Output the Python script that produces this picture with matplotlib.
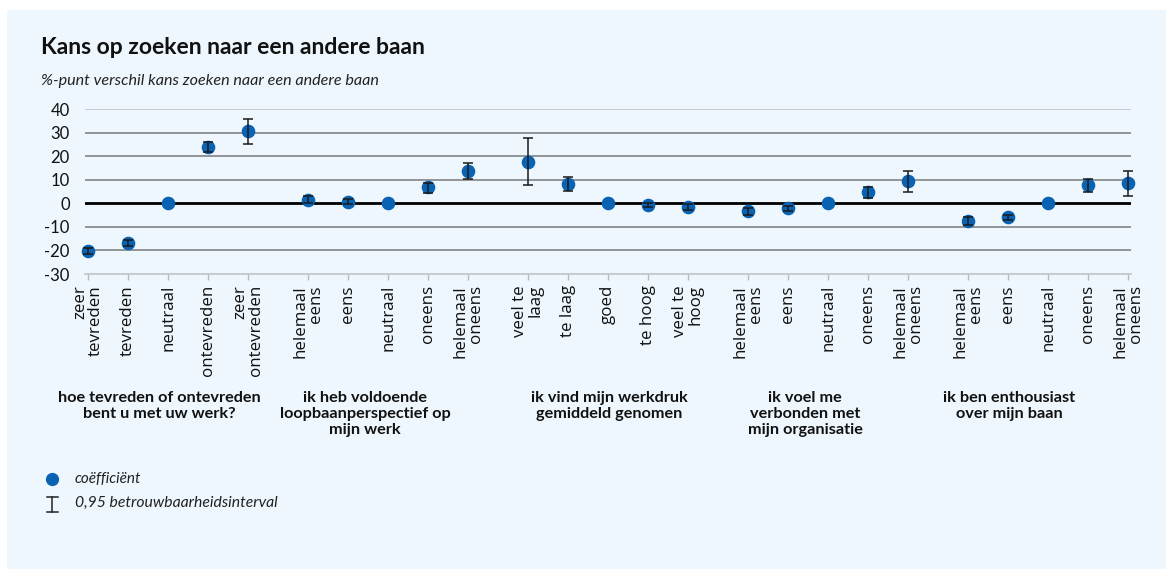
import numpy as np
import matplotlib
matplotlib.use('Agg')
import matplotlib.pyplot as plt
from matplotlib.lines import Line2D
from matplotlib.patches import Rectangle

plt.rcParams['font.family'] = ['Lato', 'DejaVu Sans']

# data
groups = ['hoe tevreden of ontevreden\nbent u met uw werk?',
          'ik heb voldoende\nloopbaanperspectief op\nmijn werk',
          'ik vind mijn werkdruk\ngemiddeld genomen',
          'ik voel me\nverbonden met\nmijn organisatie',
          'ik ben enthousiast\nover mijn baan']
labels = [['zeer\ntevreden', 'tevreden', 'neutraal', 'ontevreden', 'zeer\nontevreden'],
          ['helemaal\neens', 'eens', 'neutraal', 'oneens', 'helemaal\noneens'],
          ['veel te\nlaag', 'te laag', 'goed', 'te hoog', 'veel te\nhoog'],
          ['helemaal\neens', 'eens', 'neutraal', 'oneens', 'helemaal\noneens'],
          ['helemaal\neens', 'eens', 'neutraal', 'oneens', 'helemaal\noneens']]
coef = [[-20.2, -16.9, 0, 23.7, 30.5],
        [1.6, 0.6, 0, 6.7, 13.7],
        [17.6, 8.1, 0, -0.6, -1.4],
        [-3.2, -2.1, 0, 4.7, 9.4],
        [-7.4, -6.0, 0, 7.7, 8.4]]
ci_low = [[-21.6, -18.1, 0, 21.6, 25.2],
          [0.1, -0.5, 0, 4.3, 10.3],
          [7.8, 5.3, 0, -1.4, -2.9],
          [-4.9, -3.2, 0, 2.2, 5.0],
          [-9.0, -7.1, 0, 4.9, 3.1]]
ci_high = [[-18.8, -15.7, 0, 26.0, 35.7],
           [3.2, 1.7, 0, 8.6, 17.0],
           [27.5, 11.1, 0, 0.2, -0.1],
           [-1.8, -1.0, 0, 7.0, 13.8],
           [-5.9, -4.9, 0, 10.5, 13.8]]

blue = '#0a62b3'
bg = '#eef7fd'

fig = plt.figure(figsize=(11.66, 5.69), dpi=100)
fig.patch.set_facecolor('white')
fig.add_artist(Rectangle((7 / 1166, 0), 1, 1 - 10 / 569, transform=fig.transFigure,
                         facecolor=bg, edgecolor='none', zorder=-10))

ax = fig.add_axes([85 / 1166, 1 - 274 / 569, (1131 - 85) / 1166, (274 - 109) / 569])
ax.set_facecolor('none')

x, y, lo, hi, xl = [], [], [], [], []
for g in range(len(groups)):
    for k in range(len(coef[g])):
        x.append(g * 5.5 + k)
        y.append(coef[g][k])
        lo.append(ci_low[g][k])
        hi.append(ci_high[g][k])
        xl.append(labels[g][k])
x = np.array(x)
y = np.array(y)
lo = np.array(lo)
hi = np.array(hi)

for v in [10, 20, 30, -10, -20]:
    ax.axhline(v, color='#8a8d90', lw=1.3, zorder=1)
ax.axhline(40, color='#c4c8cc', lw=1.3, zorder=1)
ax.axhline(0, color='black', lw=2, zorder=2)

ax.plot(x, y, 'o', color=blue, ms=8.8, zorder=3, clip_on=False)
has_ci = (hi - lo) > 0
ax.errorbar(x[has_ci], y[has_ci], yerr=[y[has_ci] - lo[has_ci], hi[has_ci] - y[has_ci]],
            fmt='none', ecolor='#1a1a1a', elinewidth=1.1, capsize=3.6, capthick=1.1,
            zorder=4, clip_on=False)

ax.set_xlim(-0.075, 26.075)
ax.set_ylim(-30, 40)
ax.set_yticks(range(-30, 41, 10))
ax.set_yticklabels([str(v) for v in range(-30, 41, 10)], fontsize=12, color='#111')
ax.tick_params(axis='y', length=0, pad=11)
ax.set_xticks(x)
ax.set_xticklabels(xl, rotation=90, fontsize=12.2, va='top', ha='center', ma='right',
                   color='#111', family=['Open Sans', 'DejaVu Sans'], linespacing=0.92)
ax.tick_params(axis='x', length=4, color='#b8bcc0', width=1, pad=4)
for s in ['top', 'right', 'left']:
    ax.spines[s].set_visible(False)
ax.spines['bottom'].set_color('#c4c8cc')
ax.spines['bottom'].set_linewidth(1.3)

# group labels
group_label_x = [1.78, 6.93, 13.03, 17.93, 23.03]
for gx, name in zip(group_label_x, groups):
    ax.text(gx, -79.5, name, ha='center', va='top', fontsize=11.7, fontweight='bold',
            linespacing=1.2, color='#111')

# titles
fig.text(41 / 1166, 1 - 47 / 569, 'Kans op zoeken naar een andere baan', fontsize=16.5,
         fontweight='bold', va='center', ha='left', color='#111')
fig.text(41 / 1166, 1 - 81 / 569, '%-punt verschil kans zoeken naar een andere baan',
         fontsize=11.6, style='italic', va='center', ha='left', color='#222')

# legend
fig.add_artist(Line2D([52 / 1166], [1 - 479 / 569], marker='o', color=blue, ms=8.5,
                      transform=fig.transFigure))
fig.text(75 / 1166, 1 - 479 / 569, 'coëfficiënt', fontsize=11, style='italic',
         va='center', ha='left', color='#222')
for xs, ys in [([52, 52], [497, 512]), ([47, 58], [497, 497]), ([47, 58], [512, 512])]:
    fig.add_artist(Line2D([v / 1166 for v in xs], [1 - v / 569 for v in ys], color='#222',
                          lw=1.1, transform=fig.transFigure))
fig.text(75 / 1166, 1 - 503 / 569, '0,95 betrouwbaarheidsinterval', fontsize=11.3,
         style='italic', va='center', ha='left', color='#222')

fig.savefig('out.png', dpi=100, facecolor=fig.get_facecolor())
